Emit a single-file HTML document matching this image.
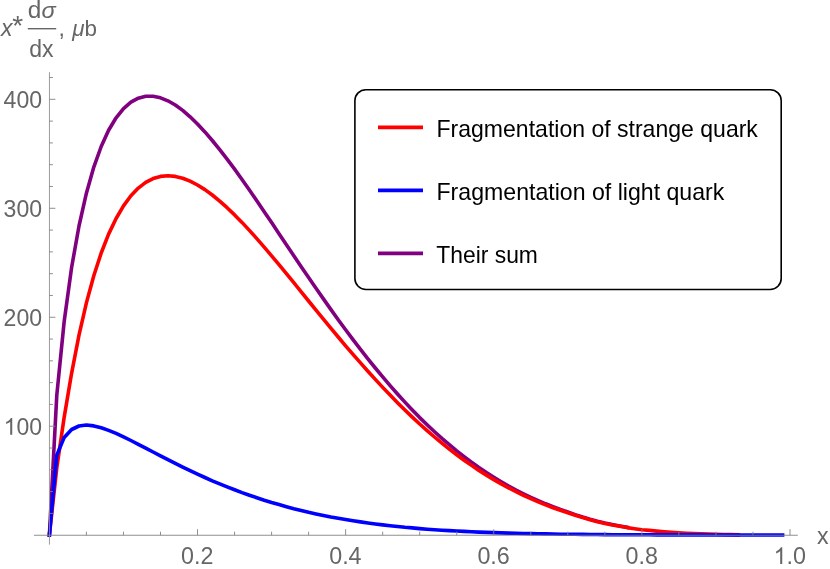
<!DOCTYPE html>
<html>
<head>
<meta charset="utf-8">
<title>Plot</title>
<style>
html,body{margin:0;padding:0;background:#fff;}
body{width:830px;height:569px;overflow:hidden;font-family:"Liberation Sans",sans-serif;}
svg{display:block;will-change:transform;}
text{font-family:"Liberation Sans",sans-serif;}
</style>
</head>
<body>
<svg width="830" height="569" viewBox="0 0 830 569">
<rect x="0" y="0" width="830" height="569" fill="#ffffff"/>
<!-- curves -->
<g fill="none" stroke-width="3.6" stroke-linejoin="round" stroke-linecap="square">
<path stroke="#800080" d="M49.4,535.0 L56.8,395.1 L64.2,321.3 L71.6,267.5 L79.0,226.0 L86.4,193.2 L93.8,167.1 L101.2,146.5 L108.6,130.3 L116.1,117.8 L123.5,108.6 L130.9,102.2 L138.3,98.2 L145.7,96.2 L153.1,96.2 L160.5,97.8 L167.9,100.8 L175.3,105.0 L182.7,110.4 L190.1,116.8 L197.5,124.0 L204.9,131.9 L212.3,140.5 L219.7,149.6 L227.1,159.2 L234.6,169.2 L242.0,179.5 L249.4,190.0 L256.8,200.8 L264.2,211.7 L271.6,222.6 L279.0,233.7 L286.4,244.7 L293.8,255.7 L301.2,266.7 L308.6,277.6 L316.0,288.3 L323.4,298.9 L330.8,309.4 L338.2,319.7 L345.6,329.8 L353.0,339.7 L360.5,349.4 L367.9,358.8 L375.3,368.0 L382.7,376.9 L390.1,385.6 L397.5,394.0 L404.9,402.1 L412.3,410.0 L419.7,417.6 L427.1,424.8 L434.5,431.7 L441.9,438.4 L449.3,444.7 L456.7,450.8 L464.1,456.6 L471.5,462.2 L478.9,467.5 L486.4,472.5 L493.8,477.2 L501.2,481.7 L508.6,486.0 L516.0,490.0 L523.4,493.8 L530.8,497.4 L538.2,500.7 L545.6,503.8 L553.0,506.7 L560.4,509.5 L567.8,512.0 L575.2,514.6 L582.6,517.0 L590.0,519.2 L597.4,521.2 L604.9,523.0 L612.3,524.6 L619.7,526.0 L627.1,527.3"/>
<path stroke="#ff0000" d="M49.4,535.0 L56.8,467.7 L64.2,417.1 L71.6,373.3 L79.0,335.1 L86.4,302.9 L93.8,275.8 L101.2,253.0 L108.6,234.1 L116.1,218.5 L123.5,205.9 L130.9,195.8 L138.3,188.1 L145.7,182.4 L153.1,178.6 L160.5,176.4 L167.9,175.8 L175.3,176.4 L182.7,178.2 L190.1,181.1 L197.5,185.0 L204.9,189.6 L212.3,195.0 L219.7,201.1 L227.1,207.7 L234.6,214.9 L242.0,222.4 L249.4,230.4 L256.8,238.6 L264.2,247.1 L271.6,255.8 L279.0,264.7 L286.4,273.7 L293.8,282.7 L301.2,291.8 L308.6,301.0 L316.0,310.1 L323.4,319.1 L330.8,328.1 L338.2,337.0 L345.6,345.8 L353.0,354.4 L360.5,362.9 L367.9,371.3 L375.3,379.4 L382.7,387.4 L390.1,395.1 L397.5,402.7 L404.9,410.0 L412.3,417.1 L419.7,424.0 L427.1,430.6 L434.5,437.0 L441.9,443.2 L449.3,449.1 L456.7,454.8 L464.1,460.2 L471.5,465.4 L478.9,470.4 L486.4,475.1 L493.8,479.6 L501.2,483.9 L508.6,487.9 L516.0,491.7 L523.4,495.3 L530.8,498.7 L538.2,501.9 L545.6,504.9 L553.0,507.7 L560.4,510.3 L567.8,512.7 L575.2,515.3 L582.6,517.6 L590.0,519.7 L597.4,521.7 L604.9,523.4 L612.3,524.9 L619.7,526.3 L627.1,527.6 L634.5,528.7 L641.9,529.7 L649.3,530.4 L656.7,531.1 L664.1,531.7 L671.5,532.3 L678.9,532.8 L686.3,533.2 L693.7,533.5 L701.1,533.8 L708.5,534.1 L715.9,534.3 L723.3,534.5 L730.8,534.6 L738.2,534.8"/>
<path stroke="#0000ff" d="M49.4,535.0 L56.8,455.2 L64.2,437.4 L71.6,429.5 L79.0,426.0 L86.4,425.0 L93.8,425.9 L101.2,427.8 L108.6,430.4 L116.1,433.4 L123.5,436.9 L130.9,440.5 L138.3,444.3 L145.7,448.2 L153.1,452.0 L160.5,455.9 L167.9,459.7 L175.3,463.4 L182.7,467.1 L190.1,470.7 L197.5,474.1 L204.9,477.5 L212.3,480.8 L219.7,483.9 L227.1,486.9 L234.6,489.8 L242.0,492.6 L249.4,495.2 L256.8,497.7 L264.2,500.2 L271.6,502.5 L279.0,504.6 L286.4,506.7 L293.8,508.7 L301.2,510.5 L308.6,512.3 L316.0,513.9 L323.4,515.5 L330.8,517.0 L338.2,518.3 L345.6,519.6 L353.0,520.8 L360.5,521.9 L367.9,523.0 L375.3,524.0 L382.7,524.9 L390.1,525.7 L397.5,526.5 L404.9,527.3 L412.3,527.9 L419.7,528.6 L427.1,529.2 L434.5,529.7 L441.9,530.2 L449.3,530.6 L456.7,531.0 L464.1,531.4 L471.5,531.8 L478.9,532.1 L486.4,532.4 L493.8,532.6 L501.2,532.9 L508.6,533.1 L516.0,533.3 L523.4,533.5 L530.8,533.6 L538.2,533.8 L545.6,533.9 L553.0,534.0 L560.4,534.2 L567.8,534.3 L575.2,534.3 L582.6,534.4 L590.0,534.5 L597.4,534.5 L604.9,534.6 L612.3,534.7 L619.7,534.7 L627.1,534.7 L634.5,534.8 L641.9,534.8 L649.3,534.8 L656.7,534.9 L664.1,534.9 L671.5,534.9 L678.9,534.9 L686.3,534.9 L693.7,534.9 L701.1,534.9 L708.5,535.0 L715.9,535.0 L723.3,535.0 L730.8,535.0 L738.2,535.0 L745.6,535.0 L753.0,535.0 L760.4,535.0 L767.8,535.0 L775.2,535.0 L782.6,535.0"/>
</g>
<!-- axes -->
<g stroke="#828282" stroke-width="0.9" fill="none">
<line x1="33.9" y1="535.25" x2="797.8" y2="535.25"/>
<line x1="49.45" y1="72.2" x2="49.45" y2="544.65" stroke="#909090"/>
<line x1="86.43" y1="535.20" x2="86.43" y2="531.70"/>
<line x1="123.46" y1="535.20" x2="123.46" y2="531.70"/>
<line x1="160.49" y1="535.20" x2="160.49" y2="531.70"/>
<line x1="197.52" y1="535.20" x2="197.52" y2="529.20"/>
<line x1="234.55" y1="535.20" x2="234.55" y2="531.70"/>
<line x1="271.58" y1="535.20" x2="271.58" y2="531.70"/>
<line x1="308.61" y1="535.20" x2="308.61" y2="531.70"/>
<line x1="345.64" y1="535.20" x2="345.64" y2="529.20"/>
<line x1="382.67" y1="535.20" x2="382.67" y2="531.70"/>
<line x1="419.70" y1="535.20" x2="419.70" y2="531.70"/>
<line x1="456.73" y1="535.20" x2="456.73" y2="531.70"/>
<line x1="493.76" y1="535.20" x2="493.76" y2="529.20"/>
<line x1="530.79" y1="535.20" x2="530.79" y2="531.70"/>
<line x1="567.82" y1="535.20" x2="567.82" y2="531.70"/>
<line x1="604.85" y1="535.20" x2="604.85" y2="531.70"/>
<line x1="641.88" y1="535.20" x2="641.88" y2="529.20"/>
<line x1="678.91" y1="535.20" x2="678.91" y2="531.70"/>
<line x1="715.94" y1="535.20" x2="715.94" y2="531.70"/>
<line x1="752.97" y1="535.20" x2="752.97" y2="531.70"/>
<line x1="790.00" y1="535.20" x2="790.00" y2="529.20"/>
<line x1="49.40" y1="513.41" x2="52.90" y2="513.41"/>
<line x1="49.40" y1="491.61" x2="52.90" y2="491.61"/>
<line x1="49.40" y1="469.82" x2="52.90" y2="469.82"/>
<line x1="49.40" y1="448.02" x2="52.90" y2="448.02"/>
<line x1="49.40" y1="426.23" x2="55.40" y2="426.23"/>
<line x1="49.40" y1="404.44" x2="52.90" y2="404.44"/>
<line x1="49.40" y1="382.64" x2="52.90" y2="382.64"/>
<line x1="49.40" y1="360.85" x2="52.90" y2="360.85"/>
<line x1="49.40" y1="339.05" x2="52.90" y2="339.05"/>
<line x1="49.40" y1="317.26" x2="55.40" y2="317.26"/>
<line x1="49.40" y1="295.47" x2="52.90" y2="295.47"/>
<line x1="49.40" y1="273.67" x2="52.90" y2="273.67"/>
<line x1="49.40" y1="251.88" x2="52.90" y2="251.88"/>
<line x1="49.40" y1="230.08" x2="52.90" y2="230.08"/>
<line x1="49.40" y1="208.29" x2="55.40" y2="208.29"/>
<line x1="49.40" y1="186.50" x2="52.90" y2="186.50"/>
<line x1="49.40" y1="164.70" x2="52.90" y2="164.70"/>
<line x1="49.40" y1="142.91" x2="52.90" y2="142.91"/>
<line x1="49.40" y1="121.11" x2="52.90" y2="121.11"/>
<line x1="49.40" y1="99.32" x2="55.40" y2="99.32"/>
<line x1="49.40" y1="77.53" x2="52.90" y2="77.53"/>
</g>
<!-- tick labels -->
<g fill="#666666" font-size="23.2px">
<text x="197.3" y="564.0" text-anchor="middle" textLength="32.4" lengthAdjust="spacingAndGlyphs">0.2</text>
<text x="345.4" y="564.0" text-anchor="middle" textLength="32.4" lengthAdjust="spacingAndGlyphs">0.4</text>
<text x="493.6" y="564.0" text-anchor="middle" textLength="32.4" lengthAdjust="spacingAndGlyphs">0.6</text>
<text x="641.7" y="564.0" text-anchor="middle" textLength="32.4" lengthAdjust="spacingAndGlyphs">0.8</text>
<path transform="translate(773.60,564.00) scale(0.011328,-0.011328)" d="M763,0H583V1147Q518,1085 412.5,1023Q307,961 223,930V1104Q374,1175 487,1276Q600,1377 647,1472H763Z"/>
<text x="786.5" y="564.0" textLength="19.5" lengthAdjust="spacingAndGlyphs">.0</text>
<text x="42.1" y="325.7" text-anchor="end" textLength="38.5" lengthAdjust="spacingAndGlyphs">200</text>
<text x="42.1" y="216.7" text-anchor="end" textLength="38.5" lengthAdjust="spacingAndGlyphs">300</text>
<text x="42.1" y="107.7" text-anchor="end" textLength="38.5" lengthAdjust="spacingAndGlyphs">400</text>
<path transform="translate(3.60,434.63) scale(0.011328,-0.011328)" d="M763,0H583V1147Q518,1085 412.5,1023Q307,961 223,930V1104Q374,1175 487,1276Q600,1377 647,1472H763Z"/>
<text x="42.1" y="434.6" text-anchor="end" textLength="25.6" lengthAdjust="spacingAndGlyphs">00</text>
<text x="817.0" y="543.6">x</text>
</g>
<!-- y axis label -->
<g fill="#666666" font-size="23px">
<text x="0.9" y="35.5" font-style="italic">x</text>
<text x="12.2" y="34.6" font-size="28px">*</text>
<text x="27.8" y="17.8" textLength="13.6" lengthAdjust="spacingAndGlyphs">d</text>
<text x="41.6" y="17.8" font-style="italic" textLength="14.2" lengthAdjust="spacingAndGlyphs">σ</text>
<rect x="27.8" y="28.0" width="28.4" height="1.4"/>
<text x="29.2" y="56.8" textLength="24.3" lengthAdjust="spacingAndGlyphs">dx</text>
<text x="58.6" y="35.5">,</text>
<text x="72.3" y="35.5" font-size="22.4px" font-style="italic">μ</text>
<text x="84.5" y="35.5" font-size="22.4px">b</text>
</g>
<!-- legend -->
<rect x="354.9" y="89.7" width="426.3" height="199.8" rx="11" ry="11" fill="#ffffff" stroke="#000000" stroke-width="1.6"/>
<g fill="none" stroke-width="3.8" stroke-linecap="butt">
<line x1="378.0" y1="127.3" x2="423.0" y2="127.3" stroke="#ff0000"/>
<line x1="378.0" y1="190.3" x2="423.0" y2="190.3" stroke="#0000ff"/>
<line x1="378.0" y1="253.3" x2="423.0" y2="253.3" stroke="#800080"/>
</g>
<g fill="#000000" font-size="23.4px">
<text x="436.5" y="136.6" textLength="321.4" lengthAdjust="spacingAndGlyphs">Fragmentation of strange quark</text>
<text x="436.5" y="199.5" textLength="287.8" lengthAdjust="spacingAndGlyphs">Fragmentation of light quark</text>
<text x="436.3" y="262.5" textLength="101.6" lengthAdjust="spacingAndGlyphs">Their sum</text>
</g>
</svg>
</body>
</html>
